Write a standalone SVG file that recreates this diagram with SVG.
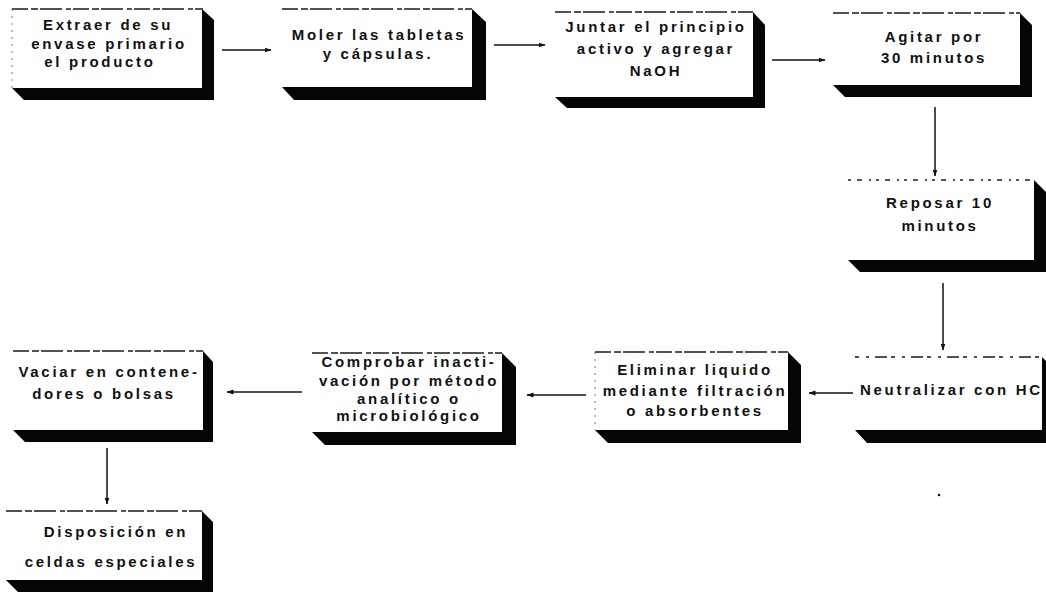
<svg xmlns="http://www.w3.org/2000/svg" width="1046" height="599" viewBox="0 0 1046 599">
  <style>
    .face { fill: #ffffff; }
    .top { stroke: #1a1a1a; stroke-width: 1.3; stroke-dasharray: 16 3 7 2 22 4 5 2; fill: none; }
    .side { stroke: #555; stroke-width: 0.8; stroke-dasharray: 2 5; fill: none; }
    .shadow { fill: #050505; }
    .lbl { font-family: "Liberation Sans", Arial, Helvetica, sans-serif; font-weight: bold; font-size: 15px; letter-spacing: 2.7px; fill: #111; text-anchor: middle; }
    .conn { stroke: #111; stroke-width: 1.5; fill: none; marker-end: url(#head); }
  </style>
  <defs>
    <marker id="head" viewBox="0 0 7 6" refX="6.5" refY="3" markerWidth="7" markerHeight="6" markerUnits="userSpaceOnUse" orient="auto">
      <path d="M0,0.5 L7,3 L0,5.5 z" fill="#111"/>
    </marker>
  </defs>
  <rect width="1046" height="599" fill="#ffffff"/>

  <!-- connectors -->
  <g id="connectors">
    <line class="conn" x1="222" y1="50" x2="271" y2="50"/>
    <line class="conn" x1="494" y1="45" x2="545" y2="45"/>
    <line class="conn" x1="772" y1="60" x2="825" y2="60"/>
    <line class="conn" x1="935" y1="107" x2="935" y2="176"/>
    <line class="conn" x1="943" y1="283" x2="943" y2="350"/>
    <line class="conn" x1="853" y1="393" x2="809" y2="393"/>
    <line class="conn" x1="586" y1="395" x2="527" y2="395"/>
    <line class="conn" x1="302" y1="392" x2="227" y2="392"/>
    <line class="conn" x1="107" y1="448" x2="107" y2="504"/>
  </g>

  <!-- step 1 -->
  <g id="n1">
    <rect class="face" x="12" y="9" width="191" height="79"/>
    <line class="top" x1="12" y1="9" x2="203" y2="9"/>
    <line class="side" x1="12" y1="9" x2="12" y2="88"/>
    <polygon class="shadow" points="202,9 214,20 214,100 24,100 12,88 202,88"/>
    <text class="lbl" x="108" y="30">Extraer de su</text>
    <text class="lbl" x="109" y="49">envase primario</text>
    <text class="lbl" x="100" y="67">el producto</text>
  </g>

  <!-- step 2 -->
  <g id="n2">
    <rect class="face" x="282" y="9" width="190" height="78"/>
    <line class="top" x1="282" y1="9" x2="472" y2="9"/>
    <polygon class="shadow" points="472,9 486,22 486,100 294,100 282,87 472,87"/>
    <text class="lbl" x="379" y="40">Moler las tabletas</text>
    <text class="lbl" x="378" y="59">y cápsulas.</text>
  </g>

  <!-- step 3 -->
  <g id="n3">
    <rect class="face" x="555" y="12" width="198" height="85"/>
    <line class="top" x1="555" y1="12" x2="753" y2="12"/>
    <polygon class="shadow" points="753,12 765,25 765,108 567,108 555,97 753,97"/>
    <text class="lbl" x="656" y="32">Juntar el principio</text>
    <text class="lbl" x="656" y="54">activo y agregar</text>
    <text class="lbl" x="656" y="76">NaOH</text>
  </g>

  <!-- step 4 -->
  <g id="n4">
    <rect class="face" x="833" y="13" width="187" height="72"/>
    <line class="top" x1="833" y1="13" x2="1020" y2="13"/>
    <polygon class="shadow" points="1020,13 1032,25 1032,97 845,97 833,85 1020,85"/>
    <text class="lbl" x="934" y="42">Agitar por</text>
    <text class="lbl" x="934" y="63">30 minutos</text>
  </g>

  <!-- step 5 -->
  <g id="n5">
    <rect class="face" x="848" y="180" width="186" height="80"/>
    <line class="top" x1="848" y1="180" x2="1034" y2="180" style="stroke-dasharray:3 6 5 7 2 5"/>
    <polygon class="shadow" points="1034,180 1046,192 1046,272 860,272 848,260 1034,260"/>
    <text class="lbl" x="940" y="208">Reposar 10</text>
    <text class="lbl" x="940" y="231">minutos</text>
  </g>

  <!-- step 6 -->
  <g id="n6">
    <rect class="face" x="855" y="357" width="188" height="73"/>
    <line class="top" x1="855" y1="357" x2="1043" y2="357" style="stroke-dasharray:4 7 3 6 12 4"/>
    <text class="lbl" x="860" y="395" style="text-anchor:start">Neutralizar con HC</text>
    <polygon class="shadow" points="1042,357 1054,369 1054,443 867,443 855,430 1042,430"/>
  </g>

  <!-- step 7 -->
  <g id="n7">
    <rect class="face" x="595" y="352" width="193" height="78"/>
    <line class="top" x1="595" y1="352" x2="788" y2="352"/>
    <line class="side" x1="595" y1="352" x2="595" y2="430"/>
    <polygon class="shadow" points="788,352 801,365 801,443 608,443 595,430 788,430"/>
    <text class="lbl" x="695" y="375">Eliminar liquido</text>
    <text class="lbl" x="695" y="396">mediante filtración</text>
    <text class="lbl" x="695" y="416">o absorbentes</text>
  </g>

  <!-- step 8 -->
  <g id="n8">
    <rect class="face" x="312" y="353" width="190" height="79"/>
    <line class="top" x1="312" y1="353" x2="502" y2="353"/>
    <polygon class="shadow" points="502,353 516,367 516,445 325,445 312,432 502,432"/>
    <text class="lbl" x="409" y="367">Comprobar inacti-</text>
    <text class="lbl" x="409" y="386">vación por método</text>
    <text class="lbl" x="409" y="404">analítico o</text>
    <text class="lbl" x="409" y="421">microbiológico</text>
  </g>

  <!-- step 9 -->
  <g id="n9">
    <rect class="face" x="13" y="351" width="190" height="79"/>
    <line class="top" x1="13" y1="351" x2="203" y2="351"/>
    <polygon class="shadow" points="203,351 213,362 213,442 25,442 13,430 203,430"/>
    <text class="lbl" x="109" y="377">Vaciar en contene-</text>
    <text class="lbl" x="104" y="399">dores o bolsas</text>
  </g>

  <!-- step 10 -->
  <g id="n10">
    <rect class="face" x="6" y="511" width="196" height="69"/>
    <line class="top" x1="6" y1="511" x2="202" y2="511"/>
    <polygon class="shadow" points="202,511 213,522 213,592 18,592 6,580 202,580"/>
    <text class="lbl" x="116" y="537">Disposición en</text>
    <text class="lbl" x="111" y="567">celdas especiales</text>
  </g>

  <circle cx="939" cy="495" r="1.3" fill="#111"/>
</svg>
